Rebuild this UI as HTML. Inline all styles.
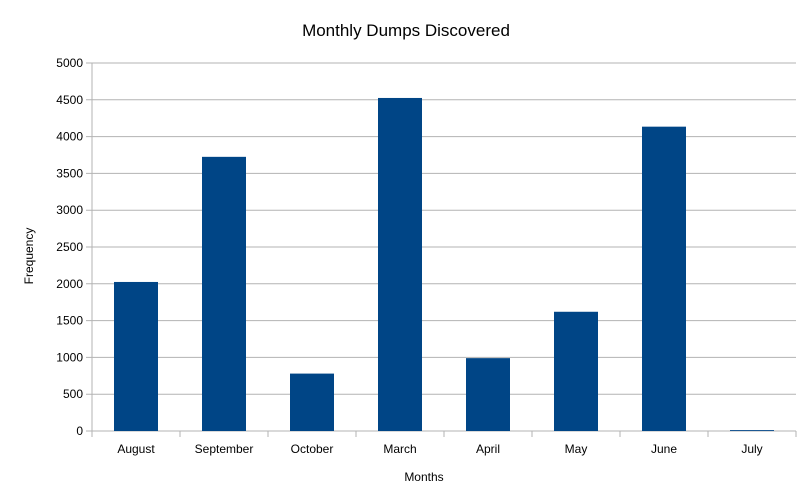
<!DOCTYPE html>
<html><head><meta charset="utf-8"><style>
body{margin:0;background:#fff;}
svg{display:block;font-family:"Liberation Sans",sans-serif;}
</style></head><body>
<svg id="chart" width="812" height="503">
<text x="406" y="36" text-anchor="middle" font-size="17" fill="#000">Monthly Dumps Discovered</text>
<text x="424" y="481" text-anchor="middle" font-size="12">Months</text>
<text transform="translate(33,256) rotate(-90)" text-anchor="middle" font-size="12">Frequency</text>
<g id="grid"></g><g id="bars"></g><g id="axes"></g>
</svg>
<script>
const categories=["August","September","October","March","April","May","June","July"];
const values=[2025,3725,780,4525,990,1620,4135,12];
const yTicks=[0,500,1000,1500,2000,2500,3000,3500,4000,4500,5000];
const NS="http://www.w3.org/2000/svg";
const L=92,R=796,T=63,B=431,yMax=5000;
const y=v=>B-(v/yMax)*(B-T);
const cw=(R-L)/categories.length;
const x=i=>L+i*cw;
function mk(tag,a,p){const e=document.createElementNS(NS,tag);for(const k in a)e.setAttribute(k,a[k]);document.getElementById(p).appendChild(e);return e;}
yTicks.forEach(t=>{
 const g=mk('line',{x1:L-6,x2:R,y1:y(t),y2:y(t),stroke:'#b3b3b3','stroke-width':1},'grid');
 
 
 const tx=mk('text',{x:L-9,y:y(t)+4,'text-anchor':'end','font-size':12},'axes');
 tx.textContent=t;
 
 
});
mk('line',{x1:L,x2:L,y1:T,y2:B,stroke:'#b3b3b3'},'axes');
for(let i=0;i<=categories.length;i++){
 mk('line',{x1:x(i),x2:x(i),y1:B,y2:B+6,stroke:'#b3b3b3'},'axes');
}
categories.forEach((c,i)=>{
 const b=mk('rect',{x:x(i)+cw/4,y:y(values[i]),width:cw/2,height:B-y(values[i]),fill:'#004586'},'bars');
 
 
 const t=mk('text',{x:x(i)+cw/2,y:453,'text-anchor':'middle','font-size':12},'axes');
 t.textContent=c;
 
 
});
</script>
</body></html>
